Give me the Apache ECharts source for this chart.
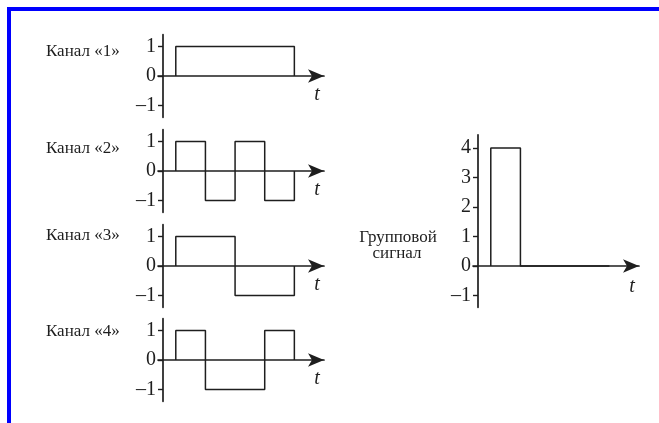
<!DOCTYPE html>
<html>
<head>
<meta charset="utf-8">
<script src="https://cdn.jsdelivr.net/npm/echarts@6/dist/echarts.min.js"></script>
<style>
html, body { margin: 0; padding: 0; background: #fff; }
#main { width: 659px; height: 423px; }
</style>
</head>
<body>
<div id="main"></div>
<script>
// данные
var channelNames = ['Канал «1»', 'Канал «2»', 'Канал «3»', 'Канал «4»'];
var channelValues = [
    [1, 1, 1, 1],
    [1, -1, 1, -1],
    [1, 1, -1, -1],
    [1, -1, -1, 1]
];
var groupValues = [4, 0, 0, 0];
var channelTicks = [-1, 0, 1];
var groupTicks = [-1, 0, 1, 2, 3, 4];
var groupLabel = ['Групповой', 'сигнал'];
var axisName = 't';

var FONT = '"Liberation Serif", "Times New Roman", serif';
var INK = '#1e1e1e';

// ступенчатый сигнал из значений на интервалах
function wave(vals) {
    var pts = [[0, 0]];
    vals.forEach(function (v, i) {
        pts.push([i, v], [i + 1, v]);
    });
    pts.push([vals.length, 0]);
    return pts;
}

function tickText(v) {
    return v < 0 ? '\u2013' + (-v) : String(v);
}

var zeroY = [76, 171, 266, 360];
var labelY = [53, 150, 237, 333];
var unitY = 29.5;

var grids = [], xAxes = [], yAxes = [], series = [], graphics = [];

function addPlot(idx, left, top, height, ymin, ymax, ticks, vals, nameGap, namePad) {
    grids.push({ left: left, top: top, width: 166, height: height });
    xAxes.push({
        gridIndex: idx, type: 'value', min: -0.6, max: 5,
        name: axisName, nameLocation: 'end', nameGap: nameGap,
        nameTextStyle: { fontFamily: FONT, fontStyle: 'italic', fontSize: 20, color: INK,
            align: 'center', verticalAlign: 'top', padding: namePad },
        axisLine: { onZero: true, symbol: ['none', 'arrow'], symbolSize: [10, 16],
            lineStyle: { color: INK, width: 1.7 } },
        axisTick: { show: false }, axisLabel: { show: false }, splitLine: { show: false }
    });
    yAxes.push({
        gridIndex: idx, type: 'value', min: ymin, max: ymax, offset: -5,
        axisLine: { show: true, onZero: false, lineStyle: { color: INK, width: 1.7 } },
        axisTick: { show: true, length: 5, customValues: ticks, lineStyle: { color: INK, width: 1.4 } },
        axisLabel: { customValues: ticks, formatter: tickText, margin: 7,
            fontFamily: FONT, fontSize: 20, color: INK },
        splitLine: { show: false }
    });
    series.push({
        type: 'line', xAxisIndex: idx, yAxisIndex: idx, data: wave(vals),
        symbol: 'none', animation: false,
        lineStyle: { color: INK, width: 1.5 }
    });
}

channelValues.forEach(function (vals, i) {
    addPlot(i, 158, zeroY[i] - 1.4 * unitY, 2.8 * unitY, -1.4, 1.4, channelTicks, vals, -7, [9, 0, 0, 0]);
    graphics.push({
        type: 'text', left: 46, top: labelY[i] - 10,
        style: { text: channelNames[i], font: '17px ' + FONT, fill: INK }
    });
});

addPlot(4, 473, 266 - 4.45 * unitY, 5.85 * unitY, -1.4, 4.45, groupTicks, groupValues, -7, [11, 0, 0, 0]);
graphics.push({
    type: 'text', x: 398, y: 229,
    style: { text: groupLabel[0], font: '17px ' + FONT, fill: INK, textAlign: 'center' }
});
graphics.push({
    type: 'text', x: 397, y: 245,
    style: { text: groupLabel[1], font: '17px ' + FONT, fill: INK, textAlign: 'center' }
});

// синяя рамка
graphics.push({ type: 'rect', shape: { x: 7, y: 7, width: 652, height: 4 }, style: { fill: '#0000ff' } });
graphics.push({ type: 'rect', shape: { x: 7, y: 7, width: 4, height: 416 }, style: { fill: '#0000ff' } });

var myChart = echarts.init(document.getElementById('main'));
myChart.setOption({
    backgroundColor: '#fff',
    animation: false,
    grid: grids,
    xAxis: xAxes,
    yAxis: yAxes,
    series: series,
    graphic: graphics
});
</script>
</body>
</html>
